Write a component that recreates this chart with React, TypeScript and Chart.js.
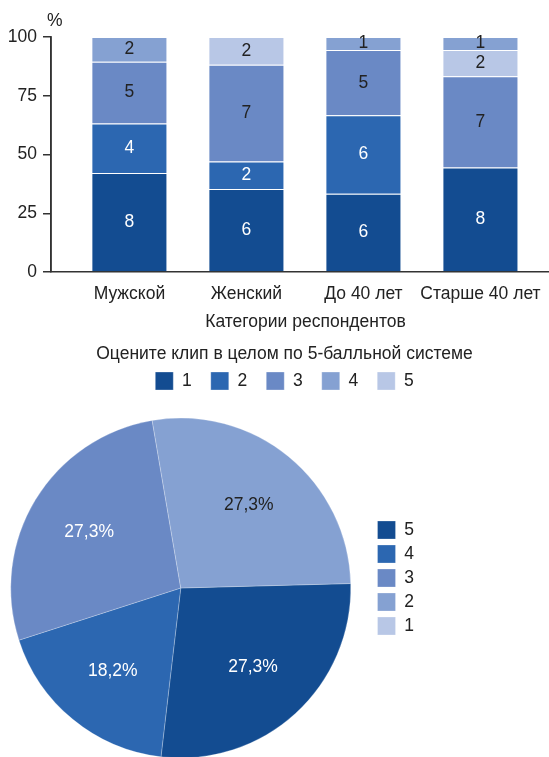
import React, { useEffect, useRef } from 'react';
import { Chart, registerables } from 'chart.js';

Chart.register(...registerables);

// ---- Bar chart data (counts of answers per score) ----
const categories = ['Мужской', 'Женский', 'До 40 лет', 'Старше 40 лет'];
const score1 = [8, 6, 6, 8];
const score2 = [4, 2, 6, 0];
const score3 = [5, 7, 5, 7];
const score4 = [2, 0, 1, 1];
const score5 = [0, 2, 0, 2];
const scoreLabels = ['1', '2', '3', '4', '5'];
const yTicks = [0, 25, 50, 75, 100];
const xAxisTitle = 'Категории респондентов';
const legendTitle = 'Оцените клип в целом по 5-балльной системе';

// ---- Pie chart data ----
const pieLabels = ['5', '4', '3', '2', '1'];
const pieCounts = [3, 2, 3, 3, 0];

const FONT = "'Liberation Sans', Arial, sans-serif";
const FS = 17.5;
const palette = ['#134c91', '#2c67b1', '#6a89c5', '#85a1d2', '#b8c7e6'];

export default function App() {
  const barRef = useRef<HTMLCanvasElement>(null);
  const pieRef = useRef<HTMLCanvasElement>(null);

  useEffect(() => {
    document.body.style.margin = '0';
    Chart.defaults.font.family = FONT;
    Chart.defaults.font.size = FS;
    Chart.defaults.color = '#222';

    const series = [score1, score2, score3, score4, score5];
    const totals = categories.map((_, i) => series.reduce((s, a) => s + a[i], 0));
    const stackOrder = [0, 1, 2, 4, 3];
    const barTextColors = ['#ffffff', '#ffffff', '#222222', '#222222', '#222222'];

    const barValueLabels = {
      id: 'barValueLabels',
      afterDatasetsDraw(chart: any) {
        const ctx = chart.ctx;
        ctx.save();
        ctx.font = `${FS}px ${FONT}`;
        ctx.textAlign = 'center';
        ctx.textBaseline = 'middle';
        chart.data.datasets.forEach((_: any, di: number) => {
          const meta = chart.getDatasetMeta(di);
          meta.data.forEach((el: any, i: number) => {
            const count = series[di][i];
            if (!count) return;
            const { x, y, base } = el.getProps(['x', 'y', 'base'], true);
            ctx.fillStyle = barTextColors[di];
            ctx.fillText(String(count), x, (y + base) / 2);
          });
        });
        ctx.restore();
      },
    };

    const axisExtras = {
      id: 'axisExtras',
      afterDraw(chart: any) {
        const { ctx, chartArea } = chart;
        ctx.save();
        // vertical value axis line
        ctx.strokeStyle = '#333';
        ctx.lineWidth = 1.5;
        ctx.beginPath();
        ctx.moveTo(chartArea.left, chartArea.top - 0.75);
        ctx.lineTo(chartArea.left, chartArea.bottom);
        ctx.stroke();
        // unit sign
        ctx.font = `${FS}px ${FONT}`;
        ctx.fillStyle = '#222';
        ctx.textAlign = 'left';
        ctx.textBaseline = 'middle';
        ctx.fillText('%', chartArea.left - 4, chartArea.top - 16);
        ctx.restore();
      },
    };

    const bar = new Chart(barRef.current as HTMLCanvasElement, {
      type: 'bar',
      data: {
        datasets: series.map((arr, di) => ({
          label: scoreLabels[di],
          data: arr.map((c, i) => ({ x: i, y: (c / totals[i]) * 100 })),
          backgroundColor: palette[di],
          borderColor: 'rgba(255,255,255,0.3)',
          borderWidth: 1,
          order: stackOrder[di],
          categoryPercentage: 1,
          barPercentage: 0.65,
        })),
      } as any,
      options: {
        responsive: false,
        animation: false,
        layout: { padding: { left: 9, top: 37, right: 0, bottom: 4 } },
        scales: {
          x: {
            type: 'linear',
            stacked: true,
            offset: false,
            min: -0.67,
            max: 3.68,
            afterBuildTicks: (s: any) => {
              s.ticks = categories.map((_, i) => ({ value: i }));
            },
            ticks: {
              callback: (v: any) => categories[v] ?? '',
              autoSkip: false,
              maxRotation: 0,
              padding: 12,
              color: '#222',
            },
            grid: { display: false, drawTicks: false },
            border: { display: true, color: '#333', width: 1.5 },
            title: {
              display: true,
              text: xAxisTitle,
              color: '#222',
              padding: { top: -5, bottom: 0 },
            },
          },
          y: {
            stacked: true,
            min: 0,
            max: 100,
            afterBuildTicks: (s: any) => {
              s.ticks = yTicks.map((v) => ({ value: v }));
            },
            afterFit: (s: any) => {
              s.width = 42;
            },
            ticks: { padding: 6, color: '#222' },
            grid: { drawOnChartArea: false, drawTicks: true, tickLength: 8, color: '#333', lineWidth: 1.5 },
            border: { display: true, color: '#333', width: 1.5 },
          },
        },
        plugins: {
          legend: {
            position: 'bottom',
            labels: {
              boxWidth: 18,
              boxHeight: 18,
              padding: 19,
              color: '#222',
              sort: (a: any, b: any) => a.datasetIndex - b.datasetIndex,
            },
            title: { display: true, text: legendTitle, color: '#222', padding: { top: 12, bottom: -13 } },
          },
          tooltip: { enabled: false },
        },
      } as any,
      plugins: [barValueLabels, axisExtras],
    });

    const pieTotal = pieCounts.reduce((a, b) => a + b, 0);
    const pieTextColors = ['#ffffff', '#ffffff', '#ffffff', '#222222', '#222222'];
    const pieValueLabels = {
      id: 'pieValueLabels',
      afterDatasetsDraw(chart: any) {
        const ctx = chart.ctx;
        ctx.save();
        ctx.font = `${FS}px ${FONT}`;
        ctx.textAlign = 'center';
        ctx.textBaseline = 'middle';
        chart.getDatasetMeta(0).data.forEach((arc: any, i: number) => {
          const c = pieCounts[i];
          if (!c) return;
          const { x, y, startAngle, endAngle, outerRadius } = arc.getProps(
            ['x', 'y', 'startAngle', 'endAngle', 'outerRadius'],
            true
          );
          const mid = (startAngle + endAngle) / 2;
          const r = outerRadius * 0.63;
          ctx.fillStyle = pieTextColors[i];
          ctx.fillText(
            ((c / pieTotal) * 100).toFixed(1).replace('.', ',') + '%',
            x + Math.cos(mid) * r,
            y + Math.sin(mid) * r
          );
        });
        ctx.restore();
      },
    };

    const pie = new Chart(pieRef.current as HTMLCanvasElement, {
      type: 'pie',
      data: {
        labels: pieLabels,
        datasets: [
          {
            data: pieCounts,
            backgroundColor: palette,
            borderColor: 'rgba(255,255,255,0.25)',
            borderWidth: 1,
            radius: 170,
            rotation: 88.5,
          },
        ],
      } as any,
      options: {
        responsive: false,
        animation: false,
        layout: { padding: { right: 125 } },
        plugins: {
          legend: {
            position: 'right',
            align: 'start',
            labels: { boxWidth: 18, boxHeight: 18, padding: 6, color: '#222' },
            title: { display: true, text: '', font: { size: 12 }, padding: { top: 0, bottom: 100.6 } },
          },
          tooltip: { enabled: false },
        },
      } as any,
      plugins: [pieValueLabels],
    });

    return () => {
      bar.destroy();
      pie.destroy();
    };
  }, []);

  return (
    <div style={{ position: 'relative', width: 549, height: 757, overflow: 'hidden', background: '#fff' }}>
      <canvas ref={barRef} width={560} height={404} style={{ position: 'absolute', left: 0, top: 0 }} />
      <canvas ref={pieRef} width={559} height={376} style={{ position: 'absolute', left: -10, top: 400 }} />
    </div>
  );
}
